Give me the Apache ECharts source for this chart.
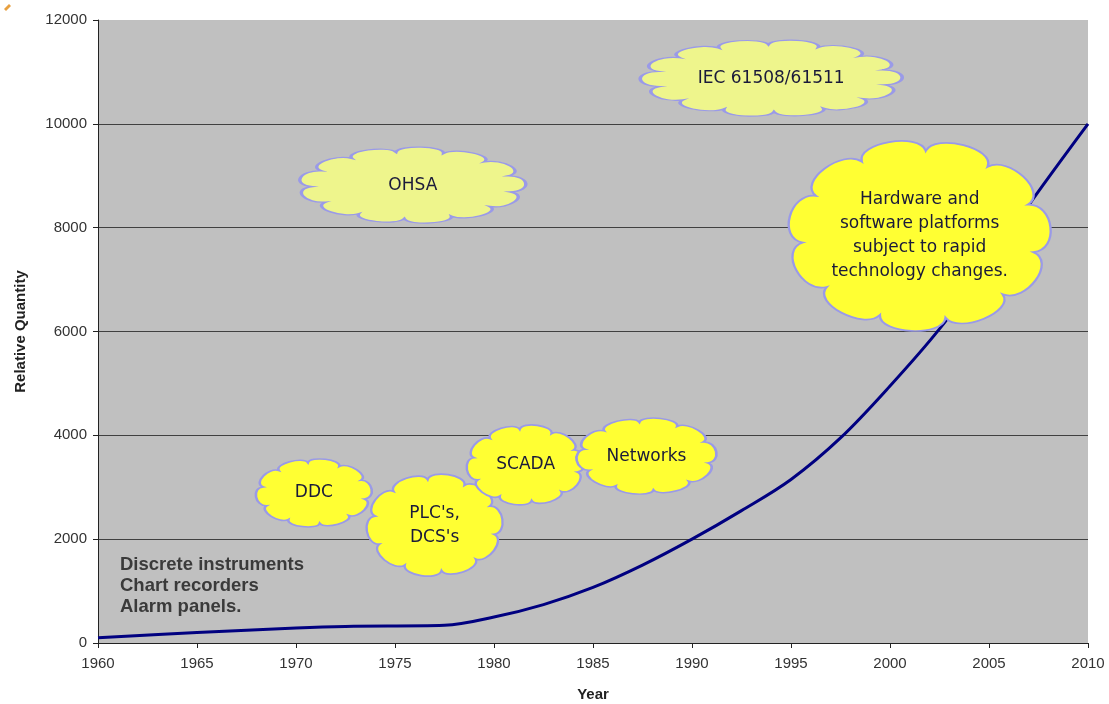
<!DOCTYPE html>
<html><head><meta charset="utf-8">
<script src="https://cdn.jsdelivr.net/npm/echarts@6/dist/echarts.min.js"></script>
<style>html,body{margin:0;padding:0;background:#fff}#c{width:1109px;height:704px}</style>
</head><body><div id="c"></div>
<script>
// Curve data (year, relative quantity)
const years = [1960, 1965, 1970, 1972.5, 1977.5, 1980, 1982.5, 1985, 1987.5, 1990, 1992.5, 1995, 1997.5, 2000, 2002.5, 2005, 2007.5, 2010];
const quantity = [100, 200, 290, 320, 340, 500, 740, 1070, 1500, 2000, 2550, 3150, 3950, 4950, 6050, 7350, 8700, 10000];

// Cloud annotations
const cloudLabels = ['IEC 61508/61511', 'OHSA', 'Hardware and\nsoftware platforms\nsubject to rapid\ntechnology changes.', 'DDC', "PLC's,\nDCS's", 'SCADA', 'Networks'];
const cloudYears = [1994.0, 1975.9, 2001.5, 1970.9, 1977.0, 1981.6, 1987.7];
const cloudValues = [10880, 8820, 7840, 2890, 2270, 3430, 3600];
const cloudSizes = [[262, 76], [226, 76], [262, 190], [116, 68], [136, 102], [118, 80], [140, 76]];
const cloudPale = [true, true, false, false, false, false, false];
const cloudBumps = [14, 13, 11, 10, 10, 10, 10];

const yTicks = [0, 2000, 4000, 6000, 8000, 10000, 12000];
const xTicks = [1960, 1965, 1970, 1975, 1980, 1985, 1990, 1995, 2000, 2005, 2010];

function cloudPath(n) {
  const R = 40, b = 0.22, cx = 50, cy = 50;
  let d = '';
  for (let i = 0; i < n; i++) {
    const a0 = 2 * Math.PI * i / n + 0.2, a1 = 2 * Math.PI * (i + 1) / n + 0.2;
    const p0 = [cx + R * Math.cos(a0), cy + R * Math.sin(a0)];
    const p1 = [cx + R * Math.cos(a1), cy + R * Math.sin(a1)];
    const ca = a0 + (a1 - a0) * 0.1, cb = a0 + (a1 - a0) * 0.9;
    const Rb = R * (1 + b);
    const c1 = [cx + Rb * Math.cos(ca), cy + Rb * Math.sin(ca)];
    const c2 = [cx + Rb * Math.cos(cb), cy + Rb * Math.sin(cb)];
    if (i === 0) d += 'M' + p0[0].toFixed(2) + ' ' + p0[1].toFixed(2);
    d += ' C' + c1[0].toFixed(2) + ' ' + c1[1].toFixed(2) + ' ' + c2[0].toFixed(2) + ' ' + c2[1].toFixed(2) + ' ' + p1[0].toFixed(2) + ' ' + p1[1].toFixed(2);
  }
  return 'path://' + d + ' Z';
}

const chart = echarts.init(document.getElementById('c'), null, {renderer: 'canvas'});
const gridColors = ['#404040', '#404040', '#404040', '#404040', '#404040', '#404040', 'rgba(0,0,0,0)'];

const cloudData = cloudLabels.map((t, i) => ({
  name: t,
  value: [cloudYears[i], cloudValues[i]],
  symbol: cloudPath(cloudBumps[i]),
  symbolSize: cloudSizes[i],
  itemStyle: {color: cloudPale[i] ? '#EEF58C' : '#FFFF33', borderColor: '#9A9AE8', borderWidth: 2, opacity: 1}
}));

chart.setOption({
  animation: false,
  backgroundColor: '#ffffff',
  grid: {left: 98, right: 21, top: 20, bottom: 61, show: true, backgroundColor: '#C0C0C0', borderWidth: 0, containLabel: false, outerBoundsMode: 'none'},
  xAxis: {
    type: 'value', min: 1960, max: 2010, interval: 5,
    name: 'Year', nameLocation: 'middle', nameGap: 44,
    nameTextStyle: {fontFamily: 'Liberation Sans', fontWeight: 'bold', fontSize: 15, color: '#222'},
    axisLine: {show: true, onZero: false, lineStyle: {color: '#222', width: 1}},
    axisTick: {show: true, length: 5, lineStyle: {color: '#222'}},
    axisLabel: {fontFamily: 'Liberation Sans', fontSize: 15, color: '#333', margin: 13, formatter: v => String(v)},
    splitLine: {show: false}
  },
  yAxis: {
    type: 'value', min: 0, max: 12000, interval: 2000,
    name: 'Relative Quantity', nameLocation: 'middle', nameGap: 70, nameRotate: 90,
    nameTextStyle: {fontFamily: 'Liberation Sans', fontWeight: 'bold', fontSize: 15, color: '#222'},
    axisLine: {show: true, lineStyle: {color: '#222', width: 1}},
    axisTick: {show: true, length: 5, lineStyle: {color: '#222'}},
    axisLabel: {fontFamily: 'Liberation Sans', fontSize: 15, color: '#333', margin: 11, formatter: v => String(v)},
    splitLine: {show: true, lineStyle: {color: gridColors, width: 1}}
  },
  graphic: [{
    type: 'text', left: 120, top: 554, z: 50,
    style: {text: 'Discrete instruments\nChart recorders\nAlarm panels.', fill: '#3a3a3a',
      font: 'bold 18.5px "Liberation Sans", Arial, sans-serif', lineHeight: 21}
  }, {
    type: 'polygon', z: 50, shape: {points: [[4, 9], [9, 4], [11, 6], [6, 11]]}, style: {fill: '#E8A040'}
  }],
  series: [{
    type: 'line', data: years.map((y, i) => [y, quantity[i]]), smooth: 0.35, showSymbol: false,
    lineStyle: {color: '#000080', width: 3}, z: 2
  }, {
    type: 'scatter', data: cloudData, z: 5,
    label: {show: true, position: 'inside', formatter: p => p.name, color: '#1a1a3a',
      fontFamily: '"Comic Sans MS", "DejaVu Sans", sans-serif', fontSize: 17, lineHeight: 24, align: 'center'}
  }]
});
</script></body></html>
